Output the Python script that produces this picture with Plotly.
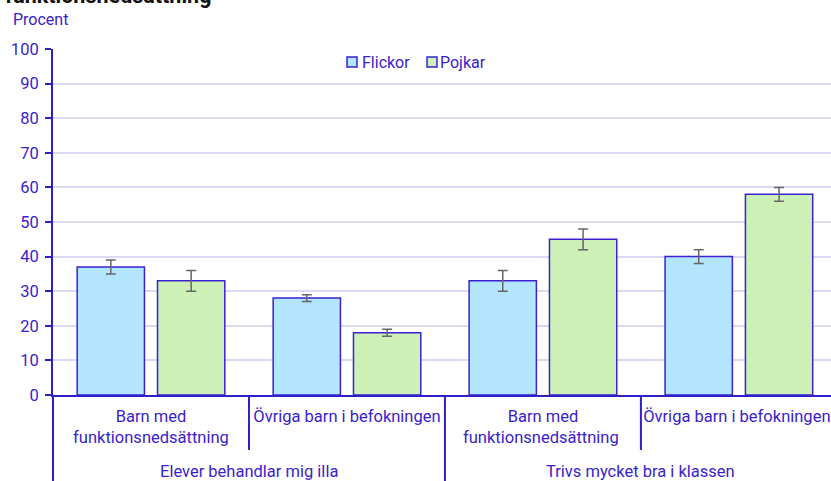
import plotly.graph_objects as go

categories = ["Barn med<br>funktionsnedsättning", "Övriga barn i befokningen",
              "Barn med<br>funktionsnedsättning ", "Övriga barn i befokningen "]
group_labels = ["Elever behandlar mig illa", "Trivs mycket bra i klassen"]
flickor = [37, 28, 33, 40]
flickor_err = [2, 1, 3, 2]
pojkar = [33, 18, 45, 58]
pojkar_err = [3, 1, 3, 2]
yticks = [0, 10, 20, 30, 40, 50, 60, 70, 80, 90, 100]

TXT = "#3a22cc"
LINE = "#2f1fc8"
FONT = "Roboto"
FS = 16.5
C_F = "#b3e5fc"
C_P = "#cdf0b6"
BORDER = "#3a22d0"

fig = go.Figure()
fig.add_trace(go.Bar(
    name="Flickor", x=categories, y=flickor,
    marker=dict(color=C_F, line=dict(color=BORDER, width=1.5)),
    error_y=dict(type="data", array=flickor_err, color="#666666", thickness=1.5, width=5),
))
fig.add_trace(go.Bar(
    name="Pojkar", x=categories, y=pojkar,
    marker=dict(color=C_P, line=dict(color=BORDER, width=1.5)),
    error_y=dict(type="data", array=pojkar_err, color="#666666", thickness=1.5, width=5),
))

# plot area geometry helpers (paper coords)
L, T, B, W, H = 53, 49, 86, 831, 481
PW, PH = W - L, H - T - B
def px(x):
    return (x - L) / PW
def py(y):
    return (H - B - y) / PH

shapes = []
# long dividers (group boundaries) and short dividers (between subcategories)
shapes.append(dict(type="line", xref="paper", yref="paper", x0=0, x1=0, y0=0, y1=py(490),
                   line=dict(color=LINE, width=2)))
shapes.append(dict(type="line", xref="x", yref="paper", x0=1.5, x1=1.5, y0=0, y1=py(490),
                   line=dict(color=LINE, width=2)))
for xb in [0.5, 2.5]:
    shapes.append(dict(type="line", xref="x", yref="paper", x0=xb, x1=xb, y0=0, y1=py(450),
                       line=dict(color=LINE, width=2)))
# legend squares
for (x0, col) in [(347, C_F), (427, C_P)]:
    shapes.append(dict(type="rect", xref="paper", yref="paper", x0=px(x0), x1=px(x0 + 10),
                       y0=py(67), y1=py(57), fillcolor=col, line=dict(color=BORDER, width=1.5)))

annotations = [
    dict(text="Procent", xref="paper", yref="paper", x=px(11), y=py(19),
         xanchor="left", yanchor="middle", showarrow=False,
         font=dict(size=16, color=TXT, family=FONT)),
    dict(text="<b>funktionsnedsättning</b>", xref="paper", yref="paper", x=px(3), y=py(10),
         xanchor="left", yanchor="bottom", showarrow=False,
         font=dict(size=21.5, color="#111111", family=FONT)),
    dict(text="Flickor", xref="paper", yref="paper", x=px(360), y=py(62),
         xanchor="left", yanchor="middle", showarrow=False,
         font=dict(size=16, color=TXT, family=FONT)),
    dict(text="Pojkar", xref="paper", yref="paper", x=px(438), y=py(62),
         xanchor="left", yanchor="middle", showarrow=False,
         font=dict(size=16, color=TXT, family=FONT)),
]
for i, g in enumerate(group_labels):
    annotations.append(dict(text=g, xref="x", yref="paper", x=0.5 + 2 * i, y=py(472),
                            xanchor="center", yanchor="middle", showarrow=False,
                            font=dict(size=FS, color=TXT, family=FONT)))

fig.update_layout(
    width=W, height=H,
    margin=dict(l=L, r=0, t=T, b=B, autoexpand=False),
    paper_bgcolor="white", plot_bgcolor="white",
    font=dict(family=FONT, size=FS, color=TXT),
    barmode="group", bargap=0.18, bargroupgap=0.1625,
    showlegend=False,
    xaxis=dict(
        type="category", automargin=False, showline=True, linecolor=LINE, linewidth=2,
        ticks="", showgrid=False, range=[-0.5, 3.47], ticklabelstandoff=5,
        tickfont=dict(size=FS, color=TXT),
    ),
    yaxis=dict(
        automargin=False, range=[0, 100], tickvals=yticks, showgrid=True,
        gridcolor="#d9d9f2", gridwidth=2,
        showline=True, linecolor=LINE, linewidth=2, ticks="outside", ticklen=6,
        tickcolor=LINE, tickwidth=2, zeroline=False, tickfont=dict(size=FS, color=TXT),
        ticklabelstandoff=3,
    ),
    shapes=shapes,
    annotations=annotations,
)

fig.write_html("out.html", config={"displayModeBar": False},
               post_script="document.body.style.margin='0';document.body.style.overflow='hidden';")
